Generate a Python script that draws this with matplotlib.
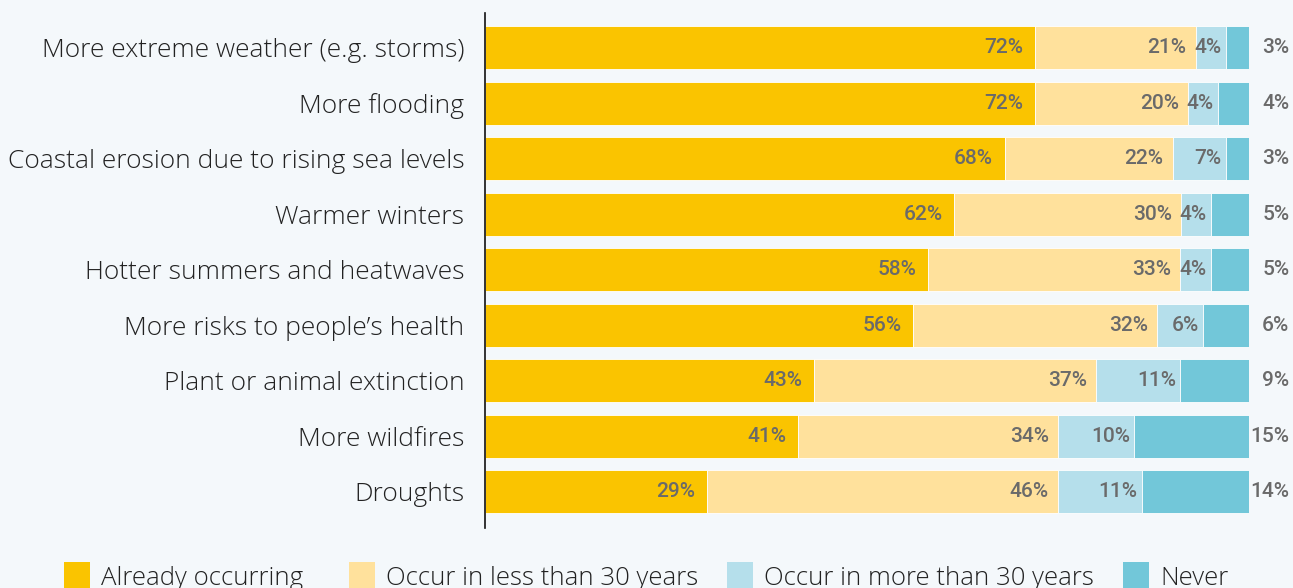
import matplotlib
matplotlib.use("Agg")
import matplotlib.pyplot as plt
import numpy as np

categories = [
    "More extreme weather (e.g. storms)",
    "More flooding",
    "Coastal erosion due to rising sea levels",
    "Warmer winters",
    "Hotter summers and heatwaves",
    "More risks to people\u2019s health",
    "Plant or animal extinction",
    "More wildfires",
    "Droughts",
]
already = [72, 72, 68, 62, 58, 56, 43, 41, 29]
less30 = [21, 20, 22, 30, 33, 32, 37, 34, 46]
more30 = [4, 4, 7, 4, 4, 6, 11, 10, 11]
never = [3, 4, 3, 5, 5, 6, 9, 15, 14]
series_names = ["Already occurring", "Occur in less than 30 years",
                "Occur in more than 30 years", "Never"]
colors = ["#fac400", "#ffe19c", "#b5dfeb", "#72c7d9"]

BG = "#f4f8fb"
W, H = 1293, 588
fig = plt.figure(figsize=(W / 100, H / 100), dpi=100, facecolor=BG)
ax = fig.add_axes([485 / W, (H - 528) / H, (1249 - 485) / W, (528 - 13) / H])
ax.set_facecolor(BG)

VAL_FONT = dict(fontsize=15, color="#6a6a6a", fontweight="medium",
                family=["Roboto", "DejaVu Sans"])

data = np.array([already, less30, more30, never], dtype=float)
totals = data.sum(axis=0)
shares = data / totals * 100
y = np.arange(len(categories))
left = np.zeros(len(categories))
bars = []
pads = [-8.3, -6.5, -3.2]
for i in range(4):
    b = ax.barh(y, shares[i], left=left, height=0.775, color=colors[i],
                edgecolor="white", linewidth=0.6, label=series_names[i])
    bars.append(b)
    for j in range(len(categories)):
        val = int(data[i, j])
        end = left[j] + shares[i, j]
        if i < 3:
            ax.annotate(f"{val}%", xy=(end, y[j]), xytext=(pads[i], 0),
                        textcoords="offset points", ha="right", va="center",
                        **VAL_FONT)
        else:
            ax.annotate(f"{val}%", xy=(1, y[j]), xycoords=("axes fraction", "data"),
                        xytext=(29, 0), textcoords="offset points",
                        ha="right", va="center", **VAL_FONT)
    left = left + shares[i]

ax.set_xlim(0, 100)
ax.set_ylim(8.65, -0.63)
ax.set_yticks(y)
ax.set_yticklabels(categories, fontsize=19, color="#222222",
                   family=["Open Sans", "DejaVu Sans"], fontweight="light")
ax.tick_params(axis="y", length=0, pad=15)
ax.set_xticks([])
for s in ["top", "right", "bottom"]:
    ax.spines[s].set_visible(False)
ax.spines["left"].set_linewidth(1.2)
ax.spines["left"].set_color("#111111")

leg_x = [64, 349, 727, 1123]
for k in range(4):
    leg = fig.legend(handles=[bars[k][0]], labels=[series_names[k]],
                     loc="upper left", bbox_to_anchor=(leg_x[k] / W, 1 - 562 / H),
                     frameon=False, handlelength=1.0, handleheight=1.3,
                     handletextpad=0.45, borderaxespad=0, borderpad=0,
                     prop={"family": ["Open Sans", "DejaVu Sans"], "size": 18.5,
                           "weight": "light"})
    for t in leg.get_texts():
        t.set_color("#222222")
    for p in leg.get_patches():
        p.set_edgecolor("none")

fig.savefig("out.png", dpi=100, facecolor=BG)
